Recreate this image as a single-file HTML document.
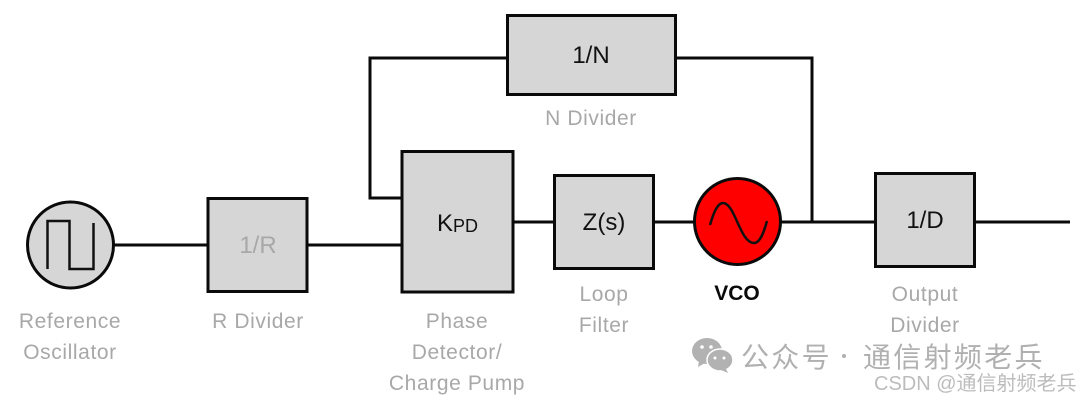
<!DOCTYPE html>
<html><head><meta charset="utf-8"><style>
html,body{margin:0;padding:0;background:#fff;width:1080px;height:400px;overflow:hidden}
svg{display:block;filter:blur(.35px)}
text{font-family:"DejaVu Sans","Liberation Sans",sans-serif}
.l{font-size:21px;fill:#a8a8a8;text-anchor:middle;font-family:"Liberation Sans","DejaVu Sans",sans-serif;letter-spacing:.6px}
.t{font-size:24px;fill:#111;text-anchor:middle;font-family:"Liberation Sans",sans-serif}
.b{fill:#d6d6d6;stroke:#0a0a0a;stroke-width:3}
.w{fill:none;stroke:#0a0a0a;stroke-width:3}
.c{font-family:'Noto Sans CJK SC',sans-serif;font-size:28px;fill:#b0b0b0;letter-spacing:2.300px}
</style></head><body>
<svg width="1080" height="400" viewBox="0 0 1080 400" xmlns="http://www.w3.org/2000/svg">
<path class="w" d="M113 245H208M307 245H403M513 222H555M653 222H695M780 222H876M974 222H1070"/>
<path class="w" d="M403 198H370V58H508M676 58H812V222"/>
<rect class="b" x="507.500" y="15.500" width="168" height="79"/>
<rect class="b" x="208" y="198.500" width="99" height="93"/>
<rect class="b" x="402" y="151.500" width="111" height="140.500"/>
<rect class="b" x="554.500" y="175.500" width="99" height="93"/>
<rect class="b" x="875.500" y="173.500" width="99" height="93"/>
<circle cx="70.500" cy="245" r="43" fill="#d6d6d6" stroke="#0a0a0a" stroke-width="3"/>
<path d="M47.500 269V221H69.500V269H93.500V223" fill="none" stroke="#111" stroke-width="2.500"/>
<circle cx="737.500" cy="221.500" r="43" fill="#fe0000" stroke="#0a0a0a" stroke-width="3"/>
<path d="M710 225C714 211 718 203 723 203C735 203 740 243 754 243C760 243 764 232 767 221" fill="none" stroke="#111" stroke-width="2.500"/>
<text class="t" x="591" y="63">1/N</text>
<text class="t" x="258" y="253" style="fill:#a8a8a8">1/R</text>
<text class="t" x="437" y="231" style="text-anchor:start">K<tspan font-size="18" dy="1">PD</tspan></text>
<text class="t" x="604" y="230">Z(s)</text>
<text class="t" x="925" y="228">1/D</text>
<text class="l" x="591" y="125">N Divider</text>
<text class="l" x="70" y="328">Reference</text>
<text class="l" x="70" y="359">Oscillator</text>
<text class="l" x="258" y="328">R Divider</text>
<text class="l" x="457" y="328">Phase</text>
<text class="l" x="457" y="359">Detector/</text>
<text class="l" x="457" y="390">Charge Pump</text>
<text class="l" x="604" y="301">Loop</text>
<text class="l" x="604" y="332">Filter</text>
<text class="l" x="737" y="300" style="fill:#0a0a0a;font-weight:bold;letter-spacing:0">VCO</text>
<text class="l" x="925" y="301">Output</text>
<text class="l" x="925" y="332">Divider</text>
<ellipse cx="707" cy="351" rx="15" ry="13" fill="#b2b2b2"/>
<path d="M699 361L698 367L705 363Z" fill="#b2b2b2"/>
<ellipse cx="720" cy="360" rx="13" ry="11" fill="#b2b2b2" stroke="#fff" stroke-width="1.500"/>
<path d="M726 369L728 373L721 370Z" fill="#b2b2b2"/>
<circle cx="702" cy="347" r="1.800" fill="#fff"/><circle cx="711" cy="347" r="1.800" fill="#fff"/>
<circle cx="715" cy="358" r="1.500" fill="#fff"/><circle cx="724" cy="358" r="1.500" fill="#fff"/>
<text class="c" x="741" y="367">公众号</text>
<circle cx="844" cy="356" r="2" fill="#b0b0b0"/>
<text class="c" x="863" y="367">通信射频老兵</text>
<text x="874" y="390" style="font-family:'Liberation Sans','Noto Sans CJK SC',sans-serif;font-size:20px;fill:#bcbcbc">CSDN @通信射频老兵</text>
</svg>
</body></html>
